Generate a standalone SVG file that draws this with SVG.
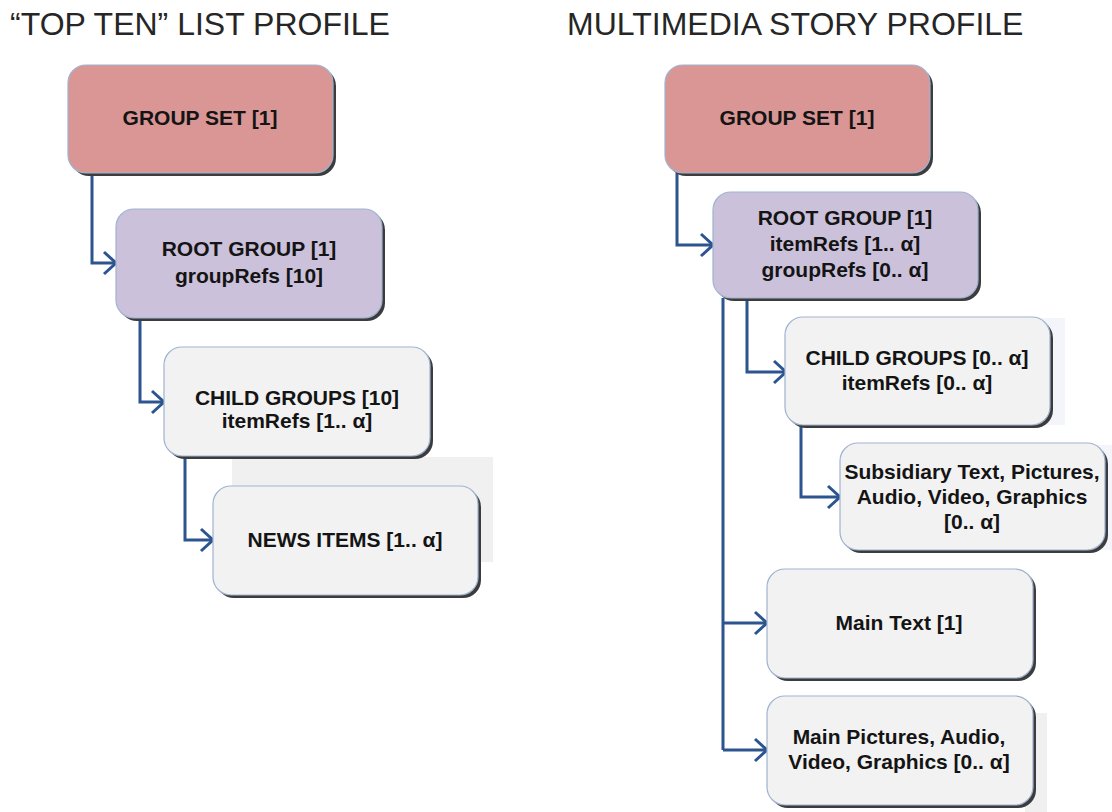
<svg xmlns="http://www.w3.org/2000/svg" width="1112" height="812" viewBox="0 0 1112 812">
<defs>
<style>
.title{font-family:"Liberation Sans",Arial,sans-serif;font-size:32px;fill:#262626}
.lbl{font-family:"Liberation Sans",Arial,sans-serif;font-size:21px;font-weight:bold;fill:#141414;text-anchor:middle}
.shadow{fill:#3c3c3c}
.box{stroke:#9fb3d1;stroke-width:1.2}
.gs{fill:#d99694}
.rg{fill:#ccc1da}
.cg{fill:#f2f2f2}
.conn path{fill:none;stroke:#2c5590;stroke-width:3;marker-end:url(#arr)}
.conn path.trunk{marker-end:none}
.ghost{fill:#f0f0f0}
</style>
<marker id="arr" markerUnits="userSpaceOnUse" markerWidth="16" markerHeight="26" viewBox="0 0 16 26" refX="14" refY="13" orient="auto">
<path d="M2,2 L14,13 L2,24" fill="none" stroke="#2c5590" stroke-width="3"/>
</marker>
</defs>
<rect width="1112" height="812" fill="#ffffff"/>

<text class="title" x="10" y="35">“TOP TEN” LIST PROFILE</text>
<text class="title" x="567" y="35">MULTIMEDIA STORY PROFILE</text>

<g id="artifacts">
<rect class="ghost" x="232" y="457" width="261" height="105"/>
<rect x="1040" y="318" width="25" height="107" fill="#f3f5fa"/>
<rect x="1095" y="445" width="17" height="105" fill="#f3f5fa"/>
<rect class="ghost" x="1025" y="713" width="22" height="99"/>
</g>

<g class="conn" id="connectors">
<path d="M92,173 V263 H116"/>
<path d="M140,318 V402 H164"/>
<path d="M185,456 V540 H213"/>
<path d="M677,173 V245 H713"/>
<path d="M747,298 V372 H786"/>
<path d="M801,425 V497 H840"/>
<path class="trunk" d="M723,298 V750"/>
<path d="M723,623 H767"/>
<path d="M723,750 H767"/>
</g>

<g id="left-groupset">
<rect class="shadow" x="71" y="68" width="265" height="108" rx="18"/>
<rect class="box gs" x="68" y="65" width="265" height="108" rx="18"/>
<text class="lbl" x="200" y="125">GROUP SET [1]</text>
</g>
<g id="left-rootgroup">
<rect class="shadow" x="119" y="212" width="266" height="109" rx="18"/>
<rect class="box rg" x="116" y="209" width="266" height="109" rx="18"/>
<text class="lbl" x="249" y="256">ROOT GROUP [1]</text>
<text class="lbl" x="249" y="283">groupRefs [10]</text>
</g>
<g id="left-childgroups">
<rect class="shadow" x="167" y="350" width="266" height="109" rx="18"/>
<rect class="box cg" x="164" y="347" width="266" height="109" rx="18"/>
<text class="lbl" x="297" y="405">CHILD GROUPS [10]</text>
<text class="lbl" x="297" y="428">itemRefs [1.. α]</text>
</g>
<g id="left-newsitems">
<rect class="shadow" x="216" y="489" width="265" height="109" rx="18"/>
<rect class="box cg" x="213" y="486" width="265" height="109" rx="18"/>
<text class="lbl" x="345" y="547">NEWS ITEMS [1.. α]</text>
</g>

<g id="right-groupset">
<rect class="shadow" x="668" y="68" width="265" height="108" rx="18"/>
<rect class="box gs" x="665" y="65" width="265" height="108" rx="18"/>
<text class="lbl" x="797" y="125">GROUP SET [1]</text>
</g>
<g id="right-rootgroup">
<rect class="shadow" x="716" y="195" width="265" height="106" rx="18"/>
<rect class="box rg" x="713" y="192" width="265" height="106" rx="18"/>
<text class="lbl" x="845" y="225">ROOT GROUP [1]</text>
<text class="lbl" x="845" y="251">itemRefs [1.. α]</text>
<text class="lbl" x="845" y="277">groupRefs [0.. α]</text>
</g>
<g id="right-childgroups">
<rect class="shadow" x="788" y="320" width="265" height="108" rx="18"/>
<rect class="box cg" x="785" y="317" width="265" height="108" rx="18"/>
<text class="lbl" x="917" y="365">CHILD GROUPS [0.. α]</text>
<text class="lbl" x="917" y="390">itemRefs [0.. α]</text>
</g>
<g id="right-subsidiary">
<rect class="shadow" x="843" y="446" width="265" height="107" rx="18"/>
<rect class="box cg" x="840" y="443" width="265" height="107" rx="18"/>
<text class="lbl" x="972" y="479">Subsidiary Text, Pictures,</text>
<text class="lbl" x="972" y="504">Audio, Video, Graphics</text>
<text class="lbl" x="972" y="529">[0.. α]</text>
</g>
<g id="right-maintext">
<rect class="shadow" x="770" y="572" width="266" height="109" rx="18"/>
<rect class="box cg" x="767" y="569" width="266" height="109" rx="18"/>
<text class="lbl" x="899" y="630">Main Text [1]</text>
</g>
<g id="right-mainpictures">
<rect class="shadow" x="770" y="699" width="266" height="109" rx="18"/>
<rect class="box cg" x="767" y="696" width="266" height="109" rx="18"/>
<text class="lbl" x="899" y="744">Main Pictures, Audio,</text>
<text class="lbl" x="899" y="769">Video, Graphics [0.. α]</text>
</g>
</svg>
